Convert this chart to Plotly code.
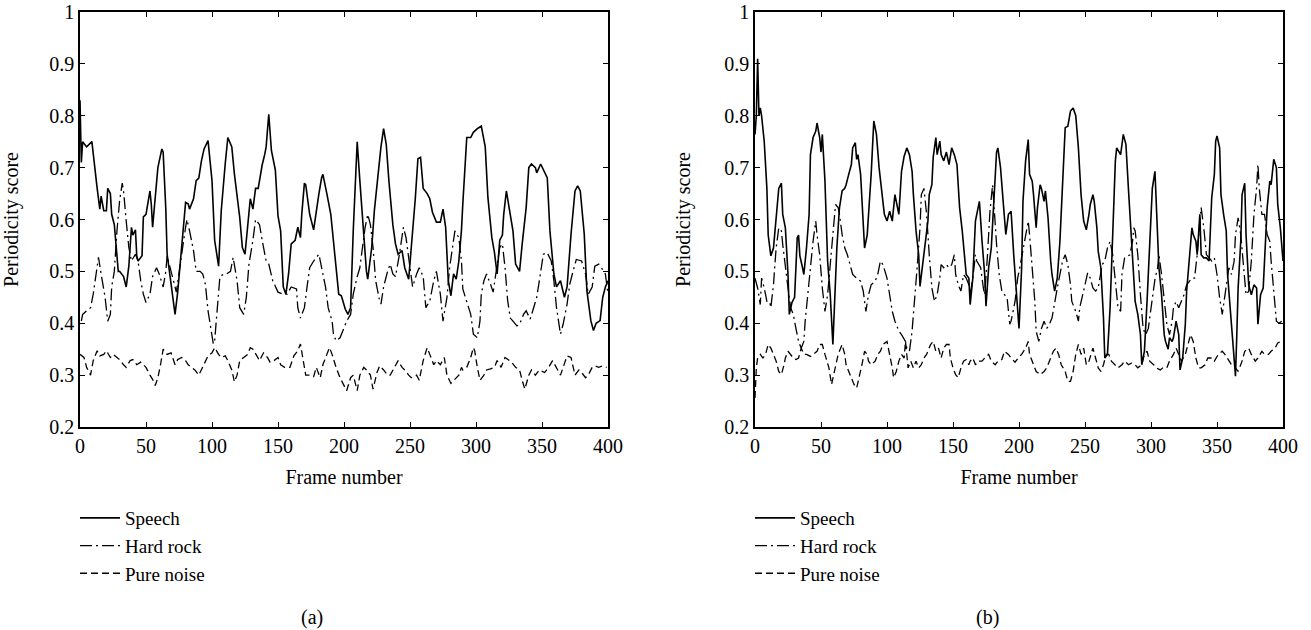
import plotly.graph_objects as go

# ---------------- data ----------------
series_names = ["Speech", "Hard rock", "Pure noise"]
x_ticks = [0, 50, 100, 150, 200, 250, 300, 350, 400]
y_ticks = [0.2, 0.3, 0.4, 0.5, 0.6, 0.7, 0.8, 0.9, 1.0]
y_tick_labels = ["0.2", "0.3", "0.4", "0.5", "0.6", "0.7", "0.8", "0.9", "1"]
panel_labels = ["(a)", "(b)"]

# ---- panel (a) ----
a_speech_f = [0, 1, 2, 5, 9, 11, 13, 15, 16, 18, 20, 21, 23, 24, 26, 27, 29, 30, 33, 35, 37, 39, 40, 42, 43, 44, 47, 48, 50, 53, 54, 55, 57, 59, 62, 63, 65, 66, 68, 70, 72, 74, 76, 78, 80, 82, 83, 86, 88, 90, 92, 94, 97, 100, 102, 105, 107, 110, 112, 115, 117, 121, 123, 125, 128, 129, 131, 133, 135, 138, 140, 141, 143, 145, 148, 150, 152, 154, 156, 158, 160, 163, 165, 167, 168, 170, 171, 174, 177, 179, 181, 183, 184, 187, 190, 193, 196, 198, 201, 203, 205, 207, 209, 210, 212, 215, 217, 218, 221, 223, 226, 228, 230, 232, 234, 237, 239, 241, 244, 246, 249, 251, 254, 256, 258, 260, 263, 265, 267, 270, 273, 275, 277, 279, 281, 283, 285, 287, 289, 290, 292, 293, 296, 298, 301, 304, 307, 309, 312, 314, 316, 318, 320, 321, 323, 325, 328, 330, 333, 335, 338, 340, 342, 345, 346, 349, 352, 354, 356, 359, 361, 364, 367, 369, 372, 375, 377, 379, 382, 384, 387, 389, 391, 394, 396, 398, 400]
a_speech_v = [0.83, 0.71, 0.75, 0.74, 0.75, 0.70, 0.66, 0.62, 0.645, 0.617, 0.617, 0.66, 0.65, 0.61, 0.59, 0.56, 0.50, 0.50, 0.49, 0.47, 0.51, 0.585, 0.57, 0.58, 0.53, 0.52, 0.53, 0.605, 0.61, 0.655, 0.63, 0.585, 0.65, 0.70, 0.736, 0.73, 0.62, 0.533, 0.495, 0.45, 0.417, 0.46, 0.52, 0.578, 0.633, 0.63, 0.62, 0.64, 0.675, 0.68, 0.713, 0.736, 0.752, 0.675, 0.56, 0.51, 0.617, 0.707, 0.758, 0.74, 0.687, 0.604, 0.546, 0.533, 0.61, 0.64, 0.62, 0.66, 0.66, 0.705, 0.726, 0.74, 0.803, 0.733, 0.695, 0.607, 0.578, 0.47, 0.456, 0.495, 0.553, 0.56, 0.585, 0.565, 0.61, 0.67, 0.667, 0.61, 0.58, 0.62, 0.65, 0.68, 0.687, 0.65, 0.61, 0.533, 0.456, 0.453, 0.427, 0.417, 0.43, 0.578, 0.707, 0.75, 0.675, 0.56, 0.5, 0.485, 0.546, 0.617, 0.695, 0.74, 0.775, 0.745, 0.675, 0.59, 0.553, 0.533, 0.54, 0.507, 0.485, 0.546, 0.64, 0.717, 0.72, 0.66, 0.65, 0.64, 0.614, 0.595, 0.595, 0.62, 0.585, 0.482, 0.453, 0.495, 0.485, 0.52, 0.58, 0.63, 0.726, 0.758, 0.758, 0.768, 0.775, 0.78, 0.74, 0.643, 0.565, 0.536, 0.495, 0.56, 0.57, 0.61, 0.655, 0.623, 0.578, 0.514, 0.5, 0.553, 0.623, 0.7, 0.707, 0.7, 0.69, 0.707, 0.69, 0.68, 0.578, 0.495, 0.47, 0.482, 0.45, 0.47, 0.572, 0.655, 0.665, 0.655, 0.572, 0.463, 0.405, 0.386, 0.4, 0.405, 0.45, 0.47, 0.482]

a_rock_f = [1, 2, 5, 8, 10, 12, 14, 16, 19, 21, 23, 24, 26, 28, 30, 32, 33, 35, 37, 39, 42, 44, 46, 48, 50, 53, 55, 58, 60, 63, 65, 66, 68, 70, 73, 75, 77, 80, 81, 83, 86, 88, 91, 93, 95, 97, 99, 101, 102, 104, 106, 109, 111, 114, 116, 119, 121, 124, 126, 128, 131, 133, 136, 138, 141, 143, 146, 150, 154, 157, 160, 164, 165, 167, 170, 172, 174, 177, 179, 181, 184, 186, 188, 191, 192, 194, 197, 200, 202, 205, 207, 210, 212, 214, 216, 218, 220, 222, 224, 227, 228, 230, 233, 235, 237, 239, 242, 245, 247, 250, 252, 255, 257, 260, 262, 265, 268, 270, 273, 275, 278, 280, 282, 284, 287, 289, 290, 293, 296, 298, 301, 303, 304, 306, 308, 311, 313, 315, 318, 320, 322, 324, 326, 328, 331, 333, 336, 338, 341, 343, 346, 348, 351, 354, 357, 359, 361, 364, 366, 369, 371, 373, 376, 380, 383, 385, 388, 390, 393, 395, 398, 400]
a_rock_v = [0.404, 0.417, 0.424, 0.43, 0.456, 0.495, 0.527, 0.495, 0.45, 0.404, 0.417, 0.47, 0.5, 0.578, 0.636, 0.67, 0.655, 0.597, 0.546, 0.52, 0.533, 0.52, 0.482, 0.456, 0.44, 0.456, 0.49, 0.507, 0.495, 0.47, 0.5, 0.53, 0.507, 0.49, 0.46, 0.5, 0.533, 0.585, 0.6, 0.578, 0.54, 0.5, 0.5, 0.495, 0.475, 0.424, 0.39, 0.36, 0.366, 0.43, 0.49, 0.495, 0.495, 0.5, 0.527, 0.482, 0.43, 0.417, 0.45, 0.514, 0.56, 0.6, 0.59, 0.56, 0.52, 0.514, 0.482, 0.46, 0.456, 0.456, 0.47, 0.466, 0.43, 0.41, 0.43, 0.47, 0.507, 0.52, 0.527, 0.533, 0.495, 0.47, 0.43, 0.404, 0.379, 0.366, 0.372, 0.392, 0.404, 0.417, 0.456, 0.49, 0.507, 0.546, 0.585, 0.61, 0.59, 0.546, 0.482, 0.443, 0.437, 0.47, 0.5, 0.514, 0.495, 0.49, 0.533, 0.585, 0.565, 0.507, 0.47, 0.495, 0.507, 0.49, 0.43, 0.443, 0.482, 0.5, 0.456, 0.404, 0.45, 0.507, 0.546, 0.578, 0.565, 0.52, 0.466, 0.443, 0.417, 0.379, 0.372, 0.404, 0.456, 0.482, 0.495, 0.475, 0.46, 0.495, 0.546, 0.553, 0.507, 0.443, 0.41, 0.404, 0.395, 0.398, 0.417, 0.424, 0.408, 0.424, 0.45, 0.482, 0.533, 0.536, 0.52, 0.482, 0.43, 0.379, 0.398, 0.437, 0.475, 0.495, 0.523, 0.52, 0.495, 0.456, 0.47, 0.51, 0.514, 0.507, 0.495, 0.456]

a_noise_f = [0, 3, 5, 8, 10, 13, 15, 18, 20, 23, 25, 28, 30, 33, 35, 38, 40, 43, 46, 48, 50, 53, 55, 57, 59, 61, 63, 66, 69, 72, 74, 77, 80, 82, 85, 87, 90, 92, 95, 97, 100, 102, 105, 107, 110, 112, 115, 117, 119, 121, 124, 127, 129, 131, 134, 136, 139, 142, 144, 147, 150, 152, 155, 159, 162, 165, 167, 169, 171, 174, 177, 179, 182, 184, 187, 189, 191, 194, 197, 200, 202, 205, 207, 210, 212, 215, 217, 220, 222, 225, 227, 230, 233, 235, 239, 241, 244, 246, 249, 251, 255, 257, 260, 263, 265, 268, 270, 273, 276, 278, 281, 283, 287, 289, 290, 293, 296, 298, 299, 301, 303, 306, 308, 311, 314, 316, 319, 322, 325, 327, 330, 333, 335, 337, 340, 342, 345, 348, 352, 355, 358, 361, 364, 366, 369, 372, 375, 378, 380, 383, 385, 388, 390, 393, 396, 399]
a_noise_v = [0.34, 0.334, 0.315, 0.3, 0.328, 0.347, 0.337, 0.34, 0.347, 0.334, 0.34, 0.334, 0.33, 0.32, 0.315, 0.328, 0.33, 0.32, 0.325, 0.32, 0.315, 0.3, 0.292, 0.28, 0.295, 0.32, 0.35, 0.34, 0.343, 0.32, 0.33, 0.334, 0.328, 0.32, 0.315, 0.31, 0.3, 0.31, 0.325, 0.337, 0.343, 0.353, 0.34, 0.334, 0.337, 0.328, 0.31, 0.287, 0.3, 0.328, 0.334, 0.34, 0.353, 0.35, 0.337, 0.328, 0.343, 0.334, 0.325, 0.328, 0.334, 0.32, 0.315, 0.315, 0.337, 0.347, 0.36, 0.328, 0.3, 0.3, 0.297, 0.315, 0.295, 0.32, 0.34, 0.353, 0.34, 0.315, 0.295, 0.28, 0.27, 0.295, 0.3, 0.27, 0.3, 0.315, 0.31, 0.3, 0.273, 0.305, 0.318, 0.31, 0.3, 0.3, 0.318, 0.328, 0.315, 0.31, 0.3, 0.295, 0.3, 0.29, 0.328, 0.353, 0.34, 0.32, 0.328, 0.32, 0.334, 0.3, 0.284, 0.29, 0.3, 0.315, 0.31, 0.315, 0.334, 0.353, 0.347, 0.315, 0.29, 0.3, 0.31, 0.312, 0.315, 0.328, 0.315, 0.334, 0.328, 0.325, 0.315, 0.31, 0.29, 0.273, 0.3, 0.31, 0.3, 0.31, 0.305, 0.315, 0.328, 0.315, 0.3, 0.315, 0.337, 0.334, 0.3, 0.31, 0.305, 0.295, 0.3, 0.315, 0.318, 0.315, 0.318, 0.315]

# ---- panel (b) ----
b_speech_f = [0, 1, 2, 3, 4, 5, 7, 9, 10, 12, 14, 16, 18, 20, 21, 23, 25, 26, 28, 30, 32, 33, 34, 36, 37, 39, 41, 42, 44, 46, 47, 49, 50, 51, 53, 55, 57, 59, 60, 62, 64, 66, 68, 69, 71, 73, 74, 76, 77, 78, 80, 82, 83, 85, 88, 90, 92, 94, 96, 97, 98, 100, 102, 104, 106, 109, 111, 113, 115, 117, 119, 120, 122, 124, 125, 127, 129, 131, 132, 134, 135, 137, 138, 140, 141, 143, 145, 147, 149, 151, 153, 155, 157, 158, 160, 162, 163, 165, 167, 168, 170, 172, 174, 175, 177, 179, 181, 183, 184, 186, 188, 190, 192, 194, 196, 198, 200, 202, 203, 205, 207, 208, 210, 211, 213, 214, 216, 217, 219, 220, 222, 224, 225, 227, 229, 231, 233, 235, 237, 239, 241, 243, 245, 247, 249, 251, 253, 254, 256, 257, 259, 260, 262, 264, 265, 267, 269, 271, 273, 274, 276, 277, 279, 281, 283, 285, 287, 288, 290, 292, 293, 295, 297, 299, 301, 303, 304, 306, 308, 310, 311, 313, 314, 316, 317, 319, 321, 322, 324, 326, 327, 329, 331, 332, 334, 335, 337, 338, 340, 342, 344, 346, 348, 349, 350, 352, 353, 355, 357, 358, 360, 362, 364, 365, 366, 368, 369, 371, 372, 374, 376, 378, 380, 381, 383, 385, 386, 388, 390, 391, 393, 395, 396, 398, 400]
b_speech_v = [0.764, 0.80, 0.91, 0.80, 0.815, 0.80, 0.75, 0.66, 0.57, 0.53, 0.545, 0.597, 0.66, 0.67, 0.61, 0.584, 0.494, 0.417, 0.44, 0.45, 0.565, 0.57, 0.53, 0.507, 0.494, 0.545, 0.61, 0.725, 0.758, 0.77, 0.786, 0.758, 0.73, 0.764, 0.674, 0.52, 0.455, 0.359, 0.43, 0.545, 0.623, 0.655, 0.66, 0.667, 0.687, 0.706, 0.738, 0.748, 0.716, 0.725, 0.687, 0.584, 0.545, 0.57, 0.687, 0.79, 0.764, 0.7, 0.648, 0.635, 0.61, 0.597, 0.616, 0.597, 0.648, 0.61, 0.693, 0.722, 0.738, 0.725, 0.693, 0.648, 0.578, 0.532, 0.471, 0.513, 0.558, 0.597, 0.648, 0.667, 0.72, 0.758, 0.725, 0.751, 0.725, 0.713, 0.73, 0.706, 0.738, 0.725, 0.706, 0.623, 0.578, 0.545, 0.494, 0.487, 0.436, 0.487, 0.597, 0.61, 0.635, 0.558, 0.494, 0.433, 0.507, 0.545, 0.648, 0.73, 0.738, 0.7, 0.635, 0.571, 0.61, 0.616, 0.532, 0.455, 0.39, 0.507, 0.635, 0.713, 0.754, 0.687, 0.674, 0.648, 0.584, 0.623, 0.667, 0.66, 0.635, 0.655, 0.603, 0.52, 0.494, 0.462, 0.487, 0.558, 0.66, 0.777, 0.78, 0.809, 0.815, 0.8, 0.738, 0.648, 0.597, 0.58, 0.61, 0.629, 0.648, 0.635, 0.584, 0.539, 0.507, 0.41, 0.333, 0.34, 0.43, 0.571, 0.713, 0.738, 0.73, 0.725, 0.764, 0.745, 0.655, 0.571, 0.507, 0.442, 0.417, 0.378, 0.32, 0.346, 0.442, 0.56, 0.66, 0.693, 0.623, 0.507, 0.455, 0.378, 0.365, 0.35, 0.372, 0.365, 0.372, 0.404, 0.378, 0.31, 0.333, 0.398, 0.462, 0.52, 0.584, 0.571, 0.558, 0.532, 0.61, 0.532, 0.526, 0.526, 0.52, 0.642, 0.687, 0.751, 0.761, 0.738, 0.648, 0.61, 0.578, 0.494, 0.43, 0.365, 0.298, 0.378, 0.468, 0.558, 0.648, 0.67, 0.571, 0.474, 0.455, 0.474, 0.468, 0.398, 0.455, 0.468, 0.52, 0.623, 0.674, 0.667, 0.716, 0.7, 0.629, 0.584, 0.52]

b_rock_f = [0, 2, 4, 5, 7, 9, 11, 12, 14, 16, 18, 20, 21, 23, 25, 27, 29, 31, 33, 35, 37, 38, 40, 42, 44, 46, 47, 49, 51, 53, 55, 57, 59, 61, 63, 64, 66, 68, 70, 72, 74, 77, 80, 82, 84, 86, 88, 91, 93, 95, 97, 100, 102, 104, 106, 109, 111, 114, 115, 117, 119, 121, 123, 125, 126, 128, 130, 132, 134, 136, 138, 140, 141, 143, 145, 147, 149, 151, 152, 154, 156, 158, 160, 162, 163, 165, 167, 168, 171, 173, 174, 176, 178, 180, 181, 183, 185, 187, 189, 191, 193, 194, 197, 199, 201, 203, 205, 207, 208, 210, 212, 213, 215, 217, 219, 221, 223, 225, 227, 229, 231, 233, 235, 237, 239, 240, 243, 245, 246, 248, 250, 252, 254, 256, 258, 260, 261, 263, 265, 267, 269, 271, 273, 275, 277, 278, 280, 282, 284, 286, 287, 288, 290, 292, 294, 296, 298, 299, 301, 303, 305, 306, 308, 310, 312, 314, 316, 317, 319, 321, 323, 325, 327, 329, 331, 333, 335, 337, 338, 340, 342, 344, 346, 348, 350, 352, 354, 355, 357, 359, 361, 363, 364, 366, 368, 370, 372, 374, 376, 378, 380, 381, 382, 384, 386, 388, 390, 391, 393, 395, 397, 399]
b_rock_v = [0.487, 0.468, 0.436, 0.487, 0.468, 0.442, 0.442, 0.43, 0.474, 0.545, 0.584, 0.578, 0.552, 0.507, 0.468, 0.43, 0.417, 0.39, 0.365, 0.352, 0.365, 0.404, 0.462, 0.507, 0.558, 0.597, 0.571, 0.532, 0.468, 0.423, 0.455, 0.513, 0.571, 0.629, 0.623, 0.61, 0.571, 0.545, 0.532, 0.513, 0.494, 0.487, 0.481, 0.462, 0.423, 0.455, 0.474, 0.481, 0.494, 0.52, 0.513, 0.487, 0.455, 0.423, 0.404, 0.385, 0.378, 0.365, 0.352, 0.346, 0.385, 0.442, 0.513, 0.584, 0.648, 0.66, 0.61, 0.532, 0.468, 0.442, 0.455, 0.487, 0.513, 0.507, 0.513, 0.507, 0.513, 0.532, 0.494, 0.474, 0.462, 0.494, 0.487, 0.474, 0.455, 0.487, 0.532, 0.52, 0.507, 0.468, 0.455, 0.526, 0.616, 0.667, 0.623, 0.552, 0.494, 0.462, 0.455, 0.449, 0.398, 0.404, 0.442, 0.487, 0.513, 0.539, 0.571, 0.597, 0.571, 0.507, 0.442, 0.385, 0.365, 0.39, 0.404, 0.39, 0.398, 0.41, 0.442, 0.468, 0.494, 0.52, 0.532, 0.513, 0.474, 0.442, 0.423, 0.404, 0.43, 0.455, 0.474, 0.497, 0.487, 0.468, 0.462, 0.468, 0.481, 0.513, 0.52, 0.545, 0.558, 0.532, 0.481, 0.43, 0.423, 0.494, 0.526, 0.529, 0.532, 0.558, 0.584, 0.578, 0.532, 0.455, 0.39, 0.378, 0.39, 0.41, 0.45, 0.485, 0.507, 0.532, 0.494, 0.442, 0.398, 0.378, 0.404, 0.43, 0.442, 0.43, 0.442, 0.455, 0.474, 0.481, 0.487, 0.487, 0.532, 0.597, 0.623, 0.584, 0.532, 0.526, 0.52, 0.526, 0.494, 0.449, 0.417, 0.436, 0.474, 0.507, 0.494, 0.52, 0.571, 0.603, 0.571, 0.507, 0.455, 0.462, 0.52, 0.61, 0.661, 0.706, 0.661, 0.61, 0.61, 0.571, 0.558, 0.52, 0.455, 0.404, 0.4, 0.404]

b_noise_f = [0, 1, 2, 4, 6, 8, 10, 12, 14, 16, 18, 20, 22, 23, 25, 27, 29, 31, 33, 35, 37, 39, 42, 44, 47, 49, 51, 53, 56, 58, 59, 61, 63, 66, 68, 69, 71, 73, 75, 77, 79, 81, 83, 85, 86, 88, 91, 93, 95, 97, 100, 102, 104, 105, 107, 109, 111, 113, 114, 116, 118, 120, 122, 124, 126, 128, 130, 131, 133, 135, 137, 139, 141, 143, 145, 147, 148, 150, 152, 154, 156, 158, 160, 162, 163, 165, 167, 169, 172, 174, 177, 179, 182, 184, 187, 189, 192, 194, 197, 200, 202, 205, 207, 208, 211, 213, 216, 219, 221, 224, 226, 228, 230, 232, 235, 237, 239, 241, 243, 245, 247, 249, 251, 253, 255, 256, 258, 260, 262, 264, 266, 268, 270, 273, 275, 278, 280, 283, 285, 288, 290, 293, 295, 297, 299, 302, 304, 307, 309, 312, 314, 317, 319, 321, 323, 326, 328, 330, 332, 334, 336, 338, 341, 343, 346, 348, 351, 354, 356, 359, 361, 364, 366, 369, 371, 374, 376, 379, 381, 384, 386, 389, 391, 394, 396, 399]
b_noise_v = [0.256, 0.314, 0.333, 0.34, 0.333, 0.34, 0.359, 0.352, 0.34, 0.327, 0.307, 0.301, 0.32, 0.333, 0.346, 0.34, 0.333, 0.33, 0.333, 0.352, 0.34, 0.34, 0.336, 0.34, 0.346, 0.359, 0.359, 0.34, 0.314, 0.282, 0.295, 0.32, 0.34, 0.359, 0.34, 0.32, 0.307, 0.295, 0.282, 0.275, 0.295, 0.32, 0.346, 0.34, 0.327, 0.32, 0.327, 0.34, 0.346, 0.359, 0.365, 0.34, 0.314, 0.295, 0.307, 0.327, 0.34, 0.333, 0.365, 0.314, 0.327, 0.314, 0.327, 0.314, 0.32, 0.333, 0.34, 0.346, 0.359, 0.365, 0.346, 0.352, 0.333, 0.352, 0.359, 0.359, 0.333, 0.314, 0.301, 0.295, 0.314, 0.327, 0.33, 0.32, 0.327, 0.333, 0.32, 0.327, 0.327, 0.333, 0.34, 0.327, 0.32, 0.327, 0.33, 0.346, 0.34, 0.333, 0.325, 0.335, 0.34, 0.352, 0.365, 0.34, 0.32, 0.307, 0.301, 0.307, 0.314, 0.333, 0.346, 0.352, 0.34, 0.32, 0.307, 0.288, 0.288, 0.307, 0.34, 0.359, 0.34, 0.352, 0.32, 0.327, 0.346, 0.352, 0.333, 0.314, 0.307, 0.32, 0.34, 0.34, 0.327, 0.32, 0.314, 0.32, 0.327, 0.32, 0.323, 0.32, 0.314, 0.32, 0.34, 0.346, 0.327, 0.32, 0.314, 0.31, 0.314, 0.314, 0.327, 0.34, 0.352, 0.34, 0.327, 0.34, 0.359, 0.378, 0.365, 0.333, 0.314, 0.314, 0.32, 0.333, 0.333, 0.327, 0.34, 0.346, 0.34, 0.327, 0.32, 0.314, 0.307, 0.327, 0.346, 0.352, 0.34, 0.327, 0.333, 0.346, 0.34, 0.34, 0.346, 0.352, 0.362, 0.365]

# ---------------- figure ----------------
W, H = 1311, 630
FONT = "Liberation Serif"
FS = 20
FS_LEG = 19

styles = [dict(color="black", width=1.6, dash="solid"),
          dict(color="black", width=1.3, dash="12px,4px,2px,4px"),
          dict(color="black", width=1.3, dash="7px,4px")]

panels = [
    ((a_speech_f, a_speech_v), (a_rock_f, a_rock_v), (a_noise_f, a_noise_v)),
    ((b_speech_f, b_speech_v), (b_rock_f, b_rock_v), (b_noise_f, b_noise_v)),
]

fig = go.Figure()
for p, series in enumerate(panels):
    xa = "x" if p == 0 else "x2"
    ya = "y" if p == 0 else "y2"
    lg = "legend" if p == 0 else "legend2"
    for k, (fx, fy) in enumerate(series):
        fig.add_trace(go.Scatter(
            x=fx, y=fy, mode="lines", name=series_names[k],
            line=styles[k], xaxis=xa, yaxis=ya, legend=lg,
            legendgroup=f"{p}{k}", showlegend=True))

# plot-area geometry (screen pixels; page body margin is removed below)
ax_left = [80, 755]
ax_w = 528
ax_top, ax_bottom = 12, 427

def px_x(sx):
    return sx / W

def px_y(sy):
    return 1 - sy / H

ydom = [px_y(ax_bottom), px_y(ax_top)]

axis_common = dict(
    showline=True, linecolor="black", linewidth=1.5, mirror="ticks",
    ticks="inside", ticklen=5, tickwidth=1.2, tickcolor="black",
    showgrid=False, zeroline=False, automargin=False,
    tickfont=dict(family=FONT, size=FS, color="black"),
)

layout = dict(
    width=W, height=H,
    margin=dict(l=0, r=0, t=0, b=0),
    paper_bgcolor="white", plot_bgcolor="white",
    font=dict(family=FONT, size=FS, color="black"),
    showlegend=True,
)
for p in range(2):
    sx = "" if p == 0 else "2"
    layout["xaxis" + sx] = dict(
        axis_common, domain=[px_x(ax_left[p]), px_x(ax_left[p] + ax_w)],
        range=[0, 400], tickvals=x_ticks, anchor="y" + sx,
        title=dict(text="Frame number", font=dict(family=FONT, size=FS), standoff=14),
    )
    layout["yaxis" + sx] = dict(
        axis_common, domain=ydom, range=[0.2, 1.0],
        tickvals=y_ticks, ticktext=y_tick_labels, anchor="x" + sx,
        title=dict(text="Periodicity score", font=dict(family=FONT, size=FS), standoff=28),
    )
    layout["legend" if p == 0 else "legend2"] = dict(
        x=px_x(ax_left[p] - 5), y=px_y(499), xanchor="left", yanchor="top",
        bgcolor="rgba(0,0,0,0)", borderwidth=0, tracegroupgap=0,
        font=dict(family=FONT, size=FS_LEG, color="black"), itemwidth=40,
    )

fig.update_layout(**layout)

label_x = [312, 987]
for p in range(2):
    fig.add_annotation(text=panel_labels[p], x=px_x(label_x[p]), y=px_y(617),
                       xref="paper", yref="paper", showarrow=False,
                       font=dict(family=FONT, size=FS, color="black"),
                       xanchor="center", yanchor="middle")

fig.write_html("out.html",
               config={"displayModeBar": False},
               post_script="document.body.style.margin='0';document.body.style.overflow='hidden';")
